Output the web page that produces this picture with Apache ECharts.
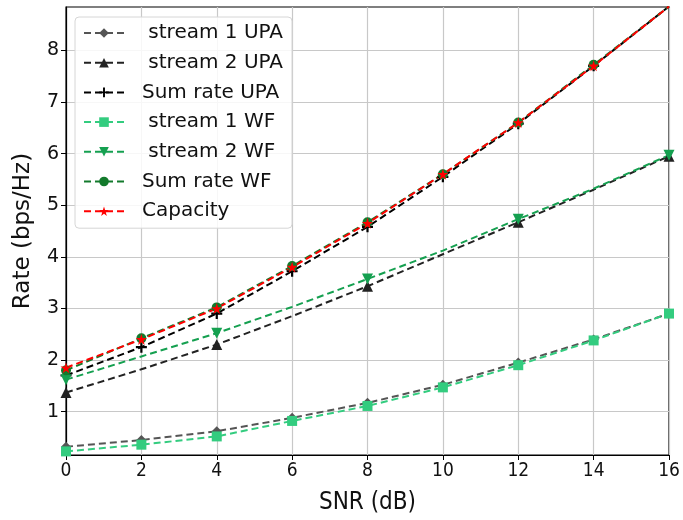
<!DOCTYPE html>
<html>
<head>
<meta charset="utf-8">
<script src="https://cdn.jsdelivr.net/npm/echarts@6/dist/echarts.min.js"></script>
<style>
  html, body { margin: 0; padding: 0; background: #fff; }
  #main { width: 683px; height: 520px; }
</style>
</head>
<body>
<div id="main"></div>
<script>
// SNR points (dB)
const snr = [0, 2, 4, 6, 8, 10, 12, 14, 16];
const xTicks = [0, 2, 4, 6, 8, 10, 12, 14, 16];
const yTicks = [1, 2, 3, 4, 5, 6, 7, 8];

const stream1UPA = [0.32, 0.45, 0.62, 0.88, 1.17, 1.52, 1.95, 2.40, 2.90];
const stream2UPA = [1.37, 1.82, 2.30, 2.85, 3.43, 4.05, 4.67, 5.30, 5.95];
const sumUPA     = [1.70, 2.25, 2.90, 3.72, 4.58, 5.55, 6.58, 7.70, 8.85];
const stream1WF  = [0.23, 0.36, 0.52, 0.82, 1.11, 1.47, 1.90, 2.38, 2.90];
const stream2WF  = [1.62, 2.07, 2.52, 3.03, 3.57, 4.12, 4.73, 5.32, 5.97];
const sumWF      = [1.80, 2.42, 3.02, 3.82, 4.67, 5.60, 6.60, 7.72, 8.85];
const capacity   = [1.85, 2.40, 3.00, 3.80, 4.65, 5.60, 6.60, 7.70, 8.85];

const plusPath = 'path://M4,0H6V4H10V6H6V10H4V6H0V4H4Z';
const starPath = 'path://M50,0L61,35H98L68,57L79,91L50,70L21,91L32,57L2,35H39Z';

const font = 'DejaVu Sans';
const narrow = "'DejaVu Sans Condensed', 'Liberation Sans Narrow', sans-serif";

function mk(name, ys, color, symbol, size, every, rotate) {
  return {
    name: name,
    type: 'line',
    symbol: symbol,
    symbolSize: size,
    symbolRotate: rotate || 0,
    showAllSymbol: true,
    lineStyle: { color: color, width: 2, type: [7, 4] },
    itemStyle: { color: color },
    emphasis: { disabled: true },
    data: snr.map((x, i) => {
      const d = { value: [x, ys[i]] };
      if (i % every !== 0) d.symbol = 'none';
      return d;
    })
  };
}

const chart = echarts.init(document.getElementById('main'), null, { renderer: 'canvas' });

chart.setOption({
  animation: false,
  backgroundColor: '#fff',
  grid: {
    left: 66, right: 14, top: 7, bottom: 62,
    show: true, borderColor: '#000', borderWidth: 1.2
  },
  legend: {
    left: 75, top: 17,
    orient: 'vertical',
    itemWidth: 40, itemHeight: 12, itemGap: 9.7,
    padding: [6, 9, 7, 8],
    backgroundColor: 'rgba(255,255,255,0.85)',
    borderColor: '#d6d6d6', borderWidth: 1, borderRadius: 4,
    textStyle: { fontFamily: font, fontSize: 20, lineHeight: 18, color: '#111', padding: [0, 0, 0, 13] },
    data: [' stream 1 UPA', ' stream 2 UPA', 'Sum rate UPA', ' stream 1 WF', ' stream 2 WF', 'Sum rate WF', 'Capacity']
  },
  xAxis: {
    type: 'value',
    min: 0, max: 16, interval: 2,
    name: 'SNR (dB)',
    nameLocation: 'middle',
    nameGap: 36,
    nameTextStyle: { fontFamily: narrow, fontSize: 24, color: '#111' },
    axisLine: { lineStyle: { color: '#000', width: 1.2 } },
    axisTick: { show: true, length: 5, lineStyle: { color: '#000' } },
    axisLabel: {
      fontFamily: narrow, fontSize: 19, color: '#111', margin: 7,
      formatter: v => xTicks.includes(v) ? String(v) : ''
    },
    splitLine: { show: true, lineStyle: { color: '#c8c8c8', width: 1.2 } }
  },
  yAxis: {
    type: 'value',
    min: 0.16, max: 8.84,
    name: 'Rate (bps/Hz)',
    nameLocation: 'middle',
    nameGap: 31,
    nameTextStyle: { fontFamily: font, fontSize: 23, color: '#111' },
    axisLine: { show: true, lineStyle: { color: '#000', width: 1.2 } },
    axisTick: { show: true, length: 5, lineStyle: { color: '#000' }, customValues: yTicks },
    axisLabel: {
      fontFamily: font, fontSize: 19, color: '#111', margin: 7,
      customValues: yTicks
    },
    splitLine: { show: true, lineStyle: { color: '#c8c8c8', width: 1.2 } }
  },
  series: [
    mk(' stream 1 UPA', stream1UPA, '#555555', 'diamond', 10, 1),
    mk(' stream 2 UPA', stream2UPA, '#222222', 'triangle', 11, 2),
    mk('Sum rate UPA', sumUPA, '#000000', plusPath, 11, 1),
    mk(' stream 1 WF', stream1WF, '#33cc7f', 'rect', 10, 1),
    mk(' stream 2 WF', stream2WF, '#15a050', 'triangle', 11, 2, 180),
    mk('Sum rate WF', sumWF, '#137a2c', 'circle', 10, 1),
    mk('Capacity', capacity, '#ff0000', starPath, 11, 1)
  ]
});
</script>
</body>
</html>
